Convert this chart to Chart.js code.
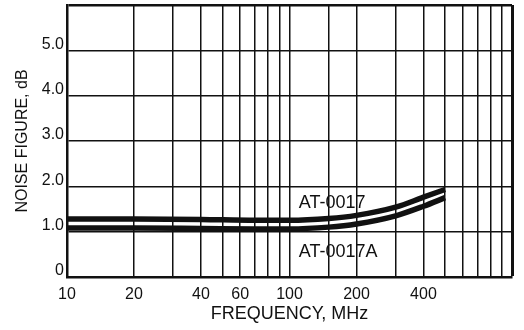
<!DOCTYPE html>
<html lang="en">
<head>
  <meta charset="UTF-8">
  <title>Noise Figure vs Frequency</title>
  <script src="https://cdn.jsdelivr.net/npm/chart.js"></script>
  <style>
    body { margin: 0; background: #fff; }
  </style>
</head>
<body>
  <canvas id="nfChart" width="524" height="330"></canvas>

  <script>
    // frequency points (MHz) and noise figure (dB)
    const freqMHz = [10, 20, 40, 70, 100, 150, 200, 300, 400, 500];
    const nfAT0017 = [1.28, 1.28, 1.27, 1.25, 1.25, 1.29, 1.36, 1.54, 1.76, 1.93];
    const nfAT0017A = [1.08, 1.08, 1.07, 1.06, 1.06, 1.10, 1.17, 1.35, 1.56, 1.75];

    const xTickLabels = [10, 20, 40, 60, 100, 200, 400];
    const yTickValues = [0, 1, 2, 3, 4, 5];
    const curveNames = ['AT-0017', 'AT-0017A'];

    const FONT = 'Liberation Sans, Arial, Helvetica, sans-serif';
    const INK = '#111';

    // curve names written inside the plot
    const curveLabels = {
      id: 'curveLabels',
      afterDatasetsDraw(chart) {
        const x = chart.scales.x, y = chart.scales.y;
        const ctx = chart.ctx;
        ctx.save();
        ctx.fillStyle = INK;
        ctx.font = '18px ' + FONT;
        ctx.textAlign = 'left';
        ctx.textBaseline = 'middle';
        ctx.fillText(curveNames[0], x.getPixelForValue(110), y.getPixelForValue(1.63));
        ctx.fillText(curveNames[1], x.getPixelForValue(110), y.getPixelForValue(0.55));
        ctx.restore();
      }
    };

    const toPoints = vals => freqMHz.map((f, i) => ({ x: f, y: vals[i] }));

    new Chart(document.getElementById('nfChart'), {
      type: 'line',
      data: {
        datasets: [
          {
            label: curveNames[0],
            data: toPoints(nfAT0017),
            borderColor: INK,
            borderWidth: 5.5,
            pointRadius: 0,
            cubicInterpolationMode: 'monotone'
          },
          {
            label: curveNames[1],
            data: toPoints(nfAT0017A),
            borderColor: INK,
            borderWidth: 5.5,
            pointRadius: 0,
            cubicInterpolationMode: 'monotone'
          }
        ]
      },
      options: {
        responsive: false,
        animation: false,
        layout: { padding: { left: 0, top: 5, right: 12, bottom: 0 } },
        plugins: {
          legend: { display: false },
          tooltip: { enabled: false }
        },
        scales: {
          x: {
            type: 'logarithmic',
            min: 10,
            max: 1000,
            afterFit(scale) {
              scale.height = 53;
              scale.paddingLeft = 0;
              scale.paddingRight = 0;
            },
            grid: {
              color: INK,
              lineWidth: c => (c.tick && c.tick.value === 1000) ? 3 : 1.5,
              drawTicks: false
            },
            border: { color: INK, width: 2.5 },
            ticks: {
              autoSkip: false,
              maxRotation: 0,
              padding: 8,
              color: INK,
              font: { family: FONT, size: 16 },
              callback: v => xTickLabels.includes(v) ? String(v) : ''
            },
            title: {
              display: true,
              text: 'FREQUENCY, MHz',
              color: INK,
              font: { family: FONT, size: 18 },
              padding: { top: 0, bottom: 5 }
            }
          },
          y: {
            min: 0,
            max: 6,
            afterFit(scale) {
              scale.width = 67;
              scale.paddingTop = 0;
              scale.paddingBottom = 0;
            },
            grid: {
              color: INK,
              lineWidth: c => (c.tick && c.tick.value === 6) ? 2.5 : 1.5,
              drawTicks: false
            },
            border: { color: INK, width: 2.5 },
            ticks: {
              stepSize: 1,
              padding: 3,
              labelOffset: -6,
              color: INK,
              font: { family: FONT, size: 16 },
              callback: v => yTickValues.includes(v) ? (v === 0 ? '0' : v.toFixed(1)) : ''
            },
            title: {
              display: true,
              text: 'NOISE FIGURE, dB',
              color: INK,
              font: { family: FONT, size: 16 },
              padding: { top: 13, bottom: 0 }
            }
          }
        }
      },
      plugins: [curveLabels]
    });
  </script>
</body>
</html>
